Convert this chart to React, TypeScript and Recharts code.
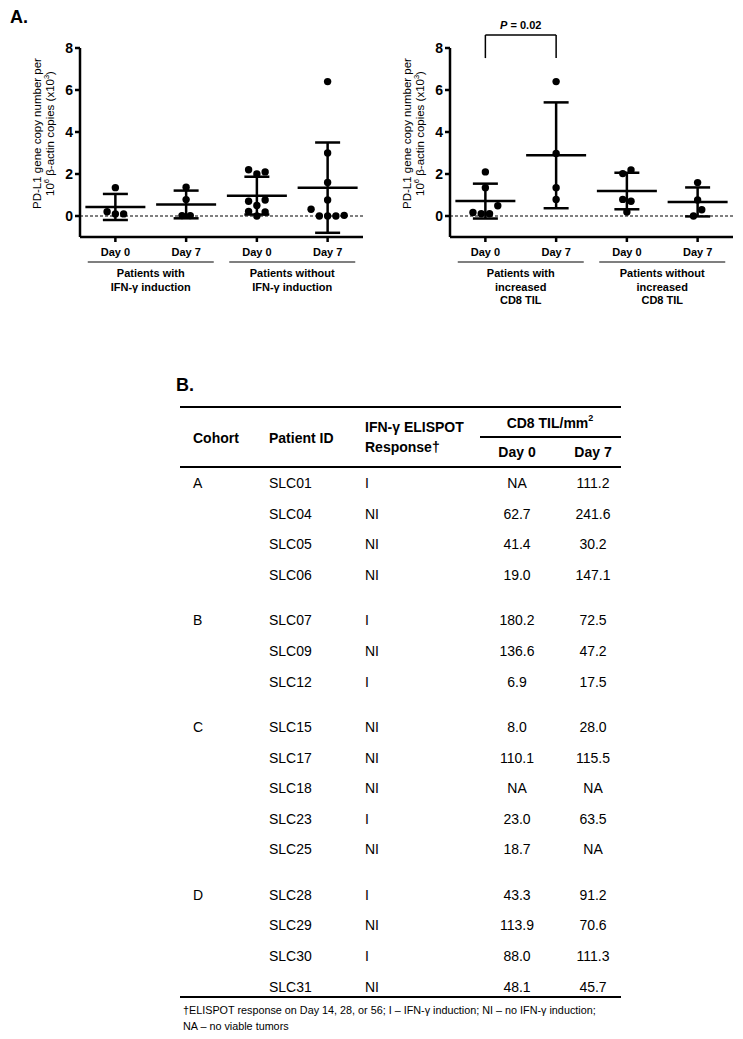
import React from 'react';
import {
  ScatterChart,
  Scatter,
  XAxis,
  YAxis,
  ErrorBar,
  ReferenceLine,
  ReferenceDot,
} from 'recharts';

const FONT = '"Liberation Sans", Arial, sans-serif';

// ---- panel A data ----
const dayLabels = ['Day 0', 'Day 7', 'Day 0', 'Day 7'];
const yTicks = [0, 2, 4, 6, 8];

const ifnGroups = [
  ['Patients with', 'IFN-γ induction'],
  ['Patients without', 'IFN-γ induction'],
];
const ifnWithDay0 = [1.35, 0.2, 0.1, 0.1];
const ifnWithDay7 = [1.37, 0.78, 0.02, 0.02];
const ifnWithoutDay0 = [2.2, 2.0, 2.1, 0.7, 0.76, 0.5, 0.22, 0.19, 0.0];
const ifnWithoutDay7 = [6.4, 3.0, 1.6, 0.76, 0.32, 0.0, 0.0, 0.0, 0.03];
// horizontal jitter slot of each dot (GraphPad style scatter)
const ifnSlots = [
  [0, -1, 0, 1],
  [0, 0, -0.5, 0.5],
  [-1, 0, 1, -1, 1, 0, -1, 1, 0],
  [0, 0, 0, 0, -2, -1, 0, 1, 2],
];
const ifnMeans = [0.43, 0.55, 0.97, 1.35];
const ifnSd = [0.62, 0.66, 0.9, 2.15];

const tilGroups = [
  ['Patients with', 'increased', 'CD8 TIL'],
  ['Patients without', 'increased', 'CD8 TIL'],
];
const tilUpDay0 = [2.1, 1.35, 0.17, 0.11, 0.11, 0.49];
const tilUpDay7 = [6.4, 2.98, 1.35, 0.79];
const tilNotDay0 = [2.02, 2.19, 0.79, 0.7, 0.19];
const tilNotDay7 = [1.59, 0.76, 0.3, 0.0];
const tilSlots = [
  [0, 0, -1.5, -0.5, 0.5, 1.5],
  [0, 0, 0, 0],
  [-0.5, 0.5, -0.5, 0.5, 0],
  [0, 0, 0.5, -0.5],
];
const tilMeans = [0.71, 2.89, 1.19, 0.67];
const tilSd = [0.83, 2.52, 0.87, 0.69];
const tilPValue = '0.02';

// ---- panel B data ----
const cohorts = ['A', 'B', 'C', 'D'];
const cohortOf = ['A', 'A', 'A', 'A', 'B', 'B', 'B', 'C', 'C', 'C', 'C', 'C', 'D', 'D', 'D', 'D'];
const patientIds = [
  'SLC01', 'SLC04', 'SLC05', 'SLC06', 'SLC07', 'SLC09', 'SLC12', 'SLC15',
  'SLC17', 'SLC18', 'SLC23', 'SLC25', 'SLC28', 'SLC29', 'SLC30', 'SLC31',
];
const elispot = ['I', 'NI', 'NI', 'NI', 'I', 'NI', 'I', 'NI', 'NI', 'NI', 'I', 'NI', 'I', 'NI', 'I', 'NI'];
const cd8Day0 = ['NA', '62.7', '41.4', '19.0', '180.2', '136.6', '6.9', '8.0', '110.1', 'NA', '23.0', '18.7', '43.3', '113.9', '88.0', '48.1'];
const cd8Day7 = ['111.2', '241.6', '30.2', '147.1', '72.5', '47.2', '17.5', '28.0', '115.5', 'NA', '63.5', 'NA', '91.2', '70.6', '111.3', '45.7'];

const SLOT = 0.117;

function toPoints(values: number[][], slots: number[][]) {
  return values.flatMap((vals, g) => vals.map((v, i) => ({ x: g + slots[g][i] * SLOT, y: v })));
}

const Dot = (p: any) => <circle cx={p.cx} cy={p.cy} r={3.7} fill="#000" />;
const MeanLine = (p: any) => (
  <line x1={p.cx - 30} x2={p.cx + 30} y1={p.cy} y2={p.cy} stroke="#000" strokeWidth={2.5} />
);

function GroupTick(props: any) {
  const { x, y, payload, groups } = props;
  const lines: string[] = groups[payload.value < 1.5 ? 0 : 1];
  return (
    <g>
      <line x1={x - 63} x2={x + 63} y1={y + 5} y2={y + 5} stroke="#000" strokeWidth={1.2} />
      <text x={x} y={y + 20} textAnchor="middle" fontSize={11} fontWeight="bold" fill="#000" fontFamily={FONT}>
        {lines.map((l, i) => (
          <tspan key={i} x={x} dy={i === 0 ? 0 : 13.5}>
            {l}
          </tspan>
        ))}
      </text>
    </g>
  );
}

function YAxisTitle(props: any) {
  const vb = props.viewBox || { x: 20, y: 48, height: 189 };
  const cy = vb.y + vb.height / 2 - 9;
  const x1 = vb.x + 17;
  const x2 = vb.x + 30;
  return (
    <g fontFamily={FONT} fontSize={11.5} fill="#000">
      <text x={x1} y={cy} textAnchor="middle" dominantBaseline="central" transform={`rotate(-90, ${x1}, ${cy})`}>
        PD-L1 gene copy number per
      </text>
      <text x={x2} y={cy} textAnchor="middle" dominantBaseline="central" transform={`rotate(-90, ${x2}, ${cy})`}>
        10<tspan fontSize={7.5} dy={-4}>6</tspan>
        <tspan dy={4}> β-actin copies (x10</tspan>
        <tspan fontSize={7.5} dy={-4}>3</tspan>
        <tspan dy={4}>)</tspan>
      </text>
    </g>
  );
}

function DotPlot({ values, slots, means, sds, groups, pValue }: any) {
  const points = toPoints(values, slots);
  const stats = means.map((m: number, i: number) => ({ x: i, y: m, sd: sds[i] }));
  return (
    <ScatterChart width={370} height={320} margin={{ top: 48, right: 7, bottom: 0, left: 20 }}>
      <XAxis
        xAxisId="day"
        type="number"
        dataKey="x"
        domain={[-0.5, 3.5]}
        ticks={[0, 1, 2, 3]}
        interval={0}
        allowDataOverflow
        tickFormatter={(v: number) => dayLabels[v]}
        height={20}
        stroke="#000"
        strokeWidth={2.5}
        tickSize={5}
        tickMargin={6}
        tick={{ fill: '#000', fontSize: 11, fontWeight: 'bold', fontFamily: FONT }}
      />
      <XAxis
        xAxisId="grp"
        type="number"
        dataKey="x"
        domain={[-0.5, 3.5]}
        ticks={[0.5, 2.5]}
        interval={0}
        allowDataOverflow
        height={63}
        axisLine={false}
        tickLine={false}
        tickSize={0}
        tickMargin={0}
        tick={(p: any) => <GroupTick {...p} groups={groups} />}
      />
      <YAxis
        type="number"
        dataKey="y"
        domain={[-1, 8]}
        ticks={yTicks}
        interval={0}
        allowDataOverflow
        width={60}
        stroke="#000"
        strokeWidth={2.5}
        tickSize={5}
        tickMargin={2}
        tick={{ fill: '#000', fontSize: 14, fontWeight: 'bold', fontFamily: FONT }}
        label={(p: any) => <YAxisTitle {...p} />}
      />
      <ReferenceLine xAxisId="day" y={0} stroke="#000" strokeWidth={1} strokeDasharray="3 2" />
      <Scatter xAxisId="day" data={points} shape={Dot} isAnimationActive={false} />
      <Scatter xAxisId="day" data={stats} shape={MeanLine} isAnimationActive={false}>
        <ErrorBar dataKey="sd" direction="y" width={12.5} stroke="#000" strokeWidth={2.5} isAnimationActive={false} />
      </Scatter>
      {pValue && (
        <ReferenceLine
          xAxisId="day"
          segment={[{ x: 0, y: 7.52 }, { x: 0, y: 8.62 }]}
          ifOverflow="visible"
          stroke="#000"
          strokeWidth={1.5}
        />
      )}
      {pValue && (
        <ReferenceLine
          xAxisId="day"
          segment={[{ x: 0, y: 8.62 }, { x: 1, y: 8.62 }]}
          ifOverflow="visible"
          stroke="#000"
          strokeWidth={1.5}
        />
      )}
      {pValue && (
        <ReferenceLine
          xAxisId="day"
          segment={[{ x: 1, y: 8.62 }, { x: 1, y: 7.52 }]}
          ifOverflow="visible"
          stroke="#000"
          strokeWidth={1.5}
        />
      )}
      {pValue && (
        <ReferenceDot
          xAxisId="day"
          x={0.5}
          y={9.1}
          ifOverflow="visible"
          shape={(p: any) => (
            <text
              x={p.cx}
              y={p.cy}
              textAnchor="middle"
              dominantBaseline="central"
              fontSize={11}
              fontWeight="bold"
              fontFamily={FONT}
              fill="#000"
            >
              <tspan fontStyle="italic">P</tspan> = {pValue}
            </text>
          )}
        />
      )}
    </ScatterChart>
  );
}

function Txt({ x, y, fs = 14, bold = false, center = false, children }: any) {
  const style: React.CSSProperties = {
    position: 'absolute',
    top: y - fs * 0.49,
    fontSize: fs,
    lineHeight: 1,
    fontWeight: bold ? 'bold' : 'normal',
    whiteSpace: 'nowrap',
  };
  if (center) {
    style.left = x - 60;
    style.width = 120;
    style.textAlign = 'center';
  } else {
    style.left = x;
  }
  return <div style={style}>{children}</div>;
}

function Rule({ x1, x2, y, h }: any) {
  return <div style={{ position: 'absolute', left: x1, top: y - h / 2, width: x2 - x1, height: h, background: '#000' }} />;
}

function CohortTable() {
  const colCohort = 193;
  const colPatient = 269;
  const colResp = 365;
  const colDay0 = 517;
  const colDay7 = 593;
  return (
    <>
      <Rule x1={180} x2={621} y={407} h={2} />
      <Txt x={colCohort} y={438} bold>Cohort</Txt>
      <Txt x={colPatient} y={438} bold>Patient ID</Txt>
      <Txt x={colResp} y={427} bold>IFN-γ ELISPOT</Txt>
      <Txt x={colResp} y={447} bold>Response†</Txt>
      <Txt x={550} y={423} bold center>
        CD8 TIL/mm<sup style={{ fontSize: 9, verticalAlign: 'top', position: 'relative', top: -2 }}>2</sup>
      </Txt>
      <Rule x1={480} x2={621} y={437} h={1.5} />
      <Txt x={colDay0} y={452} bold center>Day 0</Txt>
      <Txt x={colDay7} y={452} bold center>Day 7</Txt>
      <Rule x1={180} x2={621} y={467} h={2} />
      {patientIds.map((id, i) => {
        const gi = cohorts.indexOf(cohortOf[i]);
        const y = 483 + i * 30.6 + gi * 14.8;
        const first = i === 0 || cohortOf[i - 1] !== cohortOf[i];
        return (
          <React.Fragment key={id}>
            {first && <Txt x={colCohort} y={y}>{cohortOf[i]}</Txt>}
            <Txt x={colPatient} y={y}>{id}</Txt>
            <Txt x={colResp} y={y}>{elispot[i]}</Txt>
            <Txt x={colDay0} y={y} center>{cd8Day0[i]}</Txt>
            <Txt x={colDay7} y={y} center>{cd8Day7[i]}</Txt>
          </React.Fragment>
        );
      })}
      <Rule x1={180} x2={621} y={997} h={2} />
      <Txt x={183} y={1010} fs={10.8}>†ELISPOT response on Day 14, 28, or 56; I – IFN-γ induction; NI – no IFN-γ induction;</Txt>
      <Txt x={183} y={1026} fs={10.8}>NA – no viable tumors</Txt>
    </>
  );
}

export default function App() {
  return (
    <div
      style={{
        position: 'absolute',
        left: 0,
        top: 0,
        width: 743,
        height: 1039,
        background: '#fff',
        color: '#000',
        fontFamily: FONT,
        overflow: 'hidden',
      }}
    >
      <div style={{ position: 'absolute', left: 10, top: 8, fontSize: 18, fontWeight: 'bold', lineHeight: 1 }}>A.</div>
      <div style={{ position: 'absolute', left: 0, top: 0 }}>
        <DotPlot
          values={[ifnWithDay0, ifnWithDay7, ifnWithoutDay0, ifnWithoutDay7]}
          slots={ifnSlots}
          means={ifnMeans}
          sds={ifnSd}
          groups={ifnGroups}
        />
      </div>
      <div style={{ position: 'absolute', left: 370, top: 0 }}>
        <DotPlot
          values={[tilUpDay0, tilUpDay7, tilNotDay0, tilNotDay7]}
          slots={tilSlots}
          means={tilMeans}
          sds={tilSd}
          groups={tilGroups}
          pValue={tilPValue}
        />
      </div>
      <div style={{ position: 'absolute', left: 176, top: 376, fontSize: 18, fontWeight: 'bold', lineHeight: 1 }}>B.</div>
      <CohortTable />
    </div>
  );
}
